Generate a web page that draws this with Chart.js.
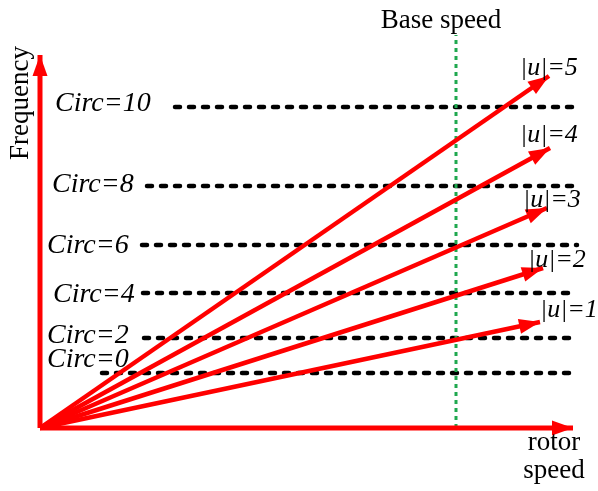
<!DOCTYPE html>
<html>
<head>
<meta charset="utf-8">
<script src="https://cdn.jsdelivr.net/npm/chart.js@4/dist/chart.umd.min.js"></script>
<style>
  html, body { margin: 0; padding: 0; background: #ffffff; }
  #wrap { width: 598px; height: 491px; }
</style>
</head>
<body>
<div id="wrap"><canvas id="c" width="598" height="491"></canvas></div>
<script>
// Circulation levels and the frequency at which each one sits
const circLevels = [0, 2, 4, 6, 8, 10];
const circFreq   = [55, 90, 135, 183, 242, 321];
// rotor speed where each circulation line begins (they all end at circEnd)
const circStart  = [62, 104, 103, 102, 107, 135];
const circEnd    = 537;

// |u| rays from the origin: end point (rotor speed, frequency)
const uLevels = [1, 2, 3, 4, 5];
const uSpeed  = [500, 503, 507, 510, 509];
const uFreq   = [106, 160, 220, 280, 352];

// base speed marker and axis extents
const baseSpeed = 416;
const baseTop   = 393;
const axisSpeedMax = 533;
const axisFreqMax  = 373;

const RED = '#ff0000';
const datasets = [];

uLevels.forEach((u, i) => {
  datasets.push({
    label: '|u|=' + u,
    data: [{x: 0, y: 0}, {x: uSpeed[i], y: uFreq[i]}],
    borderColor: RED, borderWidth: 4.5, pointRadius: 0, arrow: true,
    borderCapStyle: 'butt'
  });
});
datasets.push({
  label: 'speed axis',
  data: [{x: 0, y: 0}, {x: axisSpeedMax, y: 0}],
  borderColor: RED, borderWidth: 5, pointRadius: 0, arrow: true
});
datasets.push({
  label: 'frequency axis',
  data: [{x: 0, y: 0}, {x: 0, y: axisFreqMax}],
  borderColor: RED, borderWidth: 5, pointRadius: 0, arrow: true
});
datasets.push({
  label: 'Base speed',
  data: [{x: baseSpeed, y: 0}, {x: baseSpeed, y: baseTop}],
  borderColor: '#1fa84f', borderWidth: 3, borderDash: [4, 4], pointRadius: 0
});
circLevels.forEach((c, i) => {
  datasets.push({
    label: 'Circ=' + c,
    data: [{x: circStart[i], y: circFreq[i]}, {x: circEnd, y: circFreq[i]}],
    borderColor: '#000000', borderWidth: 4.5, borderDash: [5, 9],
    borderCapStyle: 'round', pointRadius: 0
  });
});

// Arrowheads on flagged datasets plus all the text annotations
const annotate = {
  id: 'annotate',
  afterDatasetsDraw(chart) {
    const ctx = chart.ctx;
    const xs = chart.scales.x, ys = chart.scales.y;
    const px = v => xs.getPixelForValue(v);
    const py = v => ys.getPixelForValue(v);

    chart.data.datasets.forEach(ds => {
      if (!ds.arrow) return;
      const a = ds.data[0], b = ds.data[1];
      const x0 = px(a.x), y0 = py(a.y), x1 = px(b.x), y1 = py(b.y);
      const ang = Math.atan2(y1 - y0, x1 - x0);
      const L = 21, W = 7.5;
      ctx.save();
      ctx.translate(x1, y1);
      ctx.rotate(ang);
      ctx.beginPath();
      ctx.moveTo(0, 0);
      ctx.lineTo(-L, -W);
      ctx.lineTo(-L, W);
      ctx.closePath();
      ctx.fillStyle = RED;
      ctx.fill();
      ctx.restore();
    });

    ctx.save();
    ctx.fillStyle = '#000000';
    ctx.textBaseline = 'alphabetic';

    // circulation labels
    const circLabelPos = [[7, 61], [7, 85], [13, 126], [7, 175], [12, 236], [15, 317]];
    ctx.font = 'italic 28px "Liberation Serif"';
    ctx.textAlign = 'left';
    circLevels.forEach((c, i) => {
      const p = circLabelPos[i];
      ctx.fillText('Circ=' + c, px(p[0]), py(p[1]));
    });

    // |u| labels
    const uLabelPos = [[500, 111], [488, 161], [483, 221], [480, 286], [480, 353]];
    ctx.font = 'italic 26px "Liberation Serif"';
    uLevels.forEach((u, i) => {
      const p = uLabelPos[i];
      ctx.fillText('|u|=' + u, px(p[0]), py(p[1]));
    });

    // axis titles
    ctx.font = '27px "Liberation Serif"';
    ctx.textAlign = 'center';
    ctx.fillText('Base speed', px(baseSpeed) - 15, py(400));
    ctx.fillText('rotor', px(514), py(-22));
    ctx.fillText('speed', px(514), py(-50));

    ctx.translate(px(-12), py(325));
    ctx.rotate(-Math.PI / 2);
    ctx.fillText('Frequency', 0, 0);
    ctx.restore();
  }
};

new Chart(document.getElementById('c'), {
  type: 'line',
  data: { datasets },
  options: {
    responsive: false,
    animation: false,
    events: [],
    layout: { padding: 0 },
    plugins: { legend: { display: false }, tooltip: { enabled: false } },
    scales: {
      x: { type: 'linear', min: -40, max: 558, display: false },
      y: { type: 'linear', min: -63, max: 428, display: false }
    }
  },
  plugins: [annotate]
});
</script>
</body>
</html>
